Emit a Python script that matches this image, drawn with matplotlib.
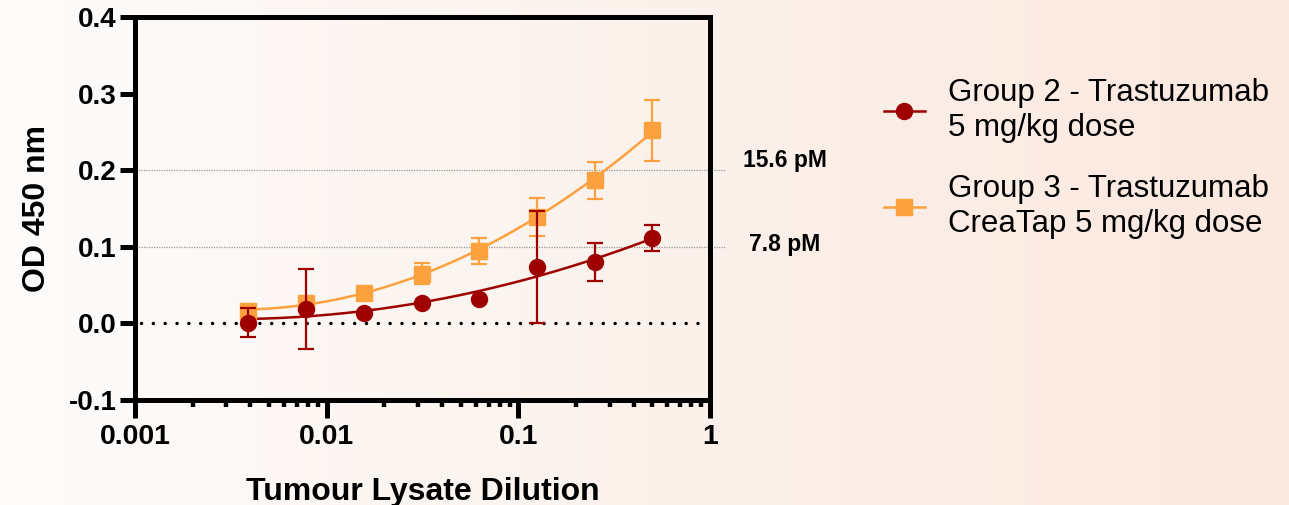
import numpy as np
import matplotlib
matplotlib.use('Agg')
import matplotlib.pyplot as plt
from matplotlib.lines import Line2D
from matplotlib.colors import LinearSegmentedColormap

# data
dilution = [1/256, 1/128, 1/64, 1/32, 1/16, 1/8, 1/4, 1/2]

group2_mean = [0.001, 0.019, 0.014, 0.026, 0.032, 0.074, 0.080, 0.111]
group2_err = [0.019, 0.052, 0.0, 0.0, 0.0, 0.073, 0.0245, 0.017]

group3_mean = [0.016, 0.027, 0.040, 0.065, 0.095, 0.139, 0.187, 0.252]
group3_err = [0.008, 0.0, 0.0, 0.014, 0.017, 0.025, 0.024, 0.040]

group2_label = 'Group 2 - Trastuzumab\n5 mg/kg dose'
group3_label = 'Group 3 - Trastuzumab\nCreaTap 5 mg/kg dose'

ref_levels = [0.2, 0.1]
ref_labels = ['15.6 pM', '7.8 pM']
ref_offsets = [0.013, 0.003]

red = '#9e0000'
orange = '#fda13f'

plt.rcParams['font.family'] = ['Liberation Sans', 'DejaVu Sans']

fig = plt.figure(figsize=(12.89, 5.05), dpi=100)

# background gradient
bg = fig.add_axes([0, 0, 1, 1], zorder=-10)
grad = np.linspace(0, 1, 256).reshape(1, -1)
cmap = LinearSegmentedColormap.from_list('bg', ['#fdfcfb', '#fbf2ec', '#fbe8df'])
bg.imshow(grad, aspect='auto', cmap=cmap, extent=(0, 1, 0, 1))
bg.axis('off')

ax = fig.add_axes([135/1289, 1 - 400/505, 575/1289, 383/505])
ax.set_facecolor('none')
ax.set_xscale('log')
ax.set_xlim(0.001, 1)
ax.set_ylim(-0.1, 0.4)

x = np.array(dilution)
xs = np.logspace(np.log10(x[0]), np.log10(x[-1]), 200)

for mean, err, col, mk, ms in [(group2_mean, group2_err, red, 'o', 11.5),
                               (group3_mean, group3_err, orange, 's', 12)]:
    # fitted curve through the points
    coef = np.polyfit(np.log10(x), mean, 2)
    ax.plot(xs, np.polyval(coef, np.log10(xs)), color=col, lw=1.8, zorder=3)
    ax.errorbar(x, mean, yerr=err, fmt=mk, color=col, ms=ms, elinewidth=1.6,
                capsize=5.5, capthick=1.6, zorder=4 if mk == 's' else 5)

# zero line
ax.axhline(0, xmin=0.01, xmax=0.99, color='black', lw=2.5,
           ls=(0, (0.01, 3.4)), dash_capstyle='round', zorder=2)

# reference lines and labels
for lev, lab, off in zip(ref_levels, ref_labels, ref_offsets):
    ax.axhline(lev, xmin=-0.015, xmax=1.026, color='#999999', lw=0.9,
               ls=(0, (1, 1)), clip_on=False, zorder=1)
    ax.text(1.13, lev + off, lab, transform=ax.get_yaxis_transform(),
            ha='center', va='center', fontsize=16.5, fontweight='bold')

for s in ax.spines.values():
    s.set_linewidth(3.6)

ax.set_yticks([-0.1, 0.0, 0.1, 0.2, 0.3, 0.4])
ax.set_yticklabels(['-0.1', '0.0', '0.1', '0.2', '0.3', '0.4'])
ax.set_xticks([0.001, 0.01, 0.1, 1])
ax.set_xticklabels(['0.001', '0.01', '0.1', '1'])
ax.tick_params(axis='y', which='major', length=11, width=3.6, direction='out',
               labelsize=20, pad=2)
ax.tick_params(axis='x', which='major', length=13, width=3.6, direction='out',
               labelsize=20.5, pad=4)
ax.tick_params(axis='x', which='minor', length=5, width=3.2, direction='out')
for lbl in ax.get_xticklabels() + ax.get_yticklabels():
    lbl.set_fontweight('bold')

ax.set_xlabel('Tumour Lysate Dilution', fontsize=23, fontweight='bold', labelpad=20)
ax.set_ylabel('OD 450 nm', fontsize=23, fontweight='bold', labelpad=12)

handles = [Line2D([], [], color=red, marker='o', ms=11.5, lw=1.8),
           Line2D([], [], color=orange, marker='s', ms=12, lw=1.8)]
fig.legend(handles, [group2_label, group3_label], loc='upper left',
           bbox_to_anchor=(856/1289, 1 - 50/505), frameon=False, fontsize=22.5,
           handlelength=1.3, handletextpad=0.75, labelspacing=1.0)

fig.savefig('out.png', dpi=100)
